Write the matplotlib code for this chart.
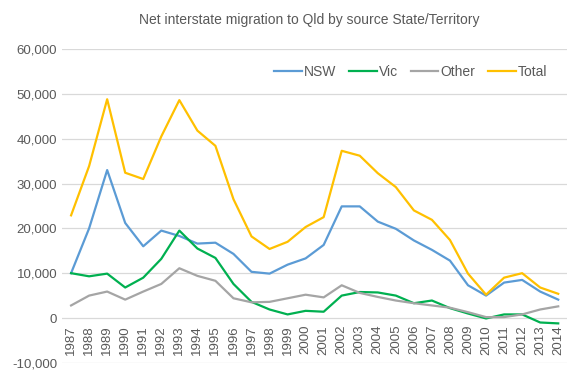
import numpy as np
import matplotlib
matplotlib.use('Agg')
import matplotlib.pyplot as plt
from matplotlib.ticker import FuncFormatter

# data
years = list(range(1987, 2015))
nsw = [10000, 20000, 33000, 21200, 16000, 19500, 18300, 16600, 16800, 14300,
       10300, 9900, 11900, 13300, 16300, 24900, 24900, 21500, 19900, 17300,
       15200, 12800, 7300, 5000, 7900, 8500, 5900, 4100]
vic = [10000, 9300, 9900, 6800, 9000, 13200, 19500, 15500, 13400, 7600,
       3600, 1900, 800, 1600, 1400, 5000, 5800, 5700, 5000, 3300,
       3900, 2200, 1000, -100, 800, 800, -1000, -1200]
other = [2800, 5000, 5900, 4100, 5900, 7600, 11100, 9400, 8300, 4400,
         3500, 3600, 4400, 5200, 4600, 7300, 5600, 4700, 3900, 3300,
         2800, 2300, 1300, 200, 200, 800, 1900, 2600]
total = [22900, 33900, 48800, 32400, 31000, 40500, 48600, 41800, 38400, 26500,
         18200, 15400, 17000, 20300, 22500, 37300, 36200, 32300, 29200, 24000,
         21900, 17400, 9900, 5200, 9000, 10000, 6800, 5400]

series = [('NSW', nsw, '#5b9bd5'), ('Vic', vic, '#00b050'),
          ('Other', other, '#a5a5a5'), ('Total', total, '#ffc000')]

plt.rcParams['font.family'] = ['Liberation Sans', 'DejaVu Sans']
txt = '#595959'

fig = plt.figure(figsize=(5.8, 3.86), dpi=100)
ax = fig.add_axes([0.107, 0.06, 0.871, 0.813])

# x axis labels sit just under the zero line
for s in ['top', 'right', 'left']:
    ax.spines[s].set_visible(False)
ax.spines['bottom'].set_position(('data', 0))
ax.spines['bottom'].set_visible(False)

for name, vals, col in series:
    ax.plot(years, vals, color=col, lw=1.6, label=name)

ax.set_xlim(1986.5, 2014.5)
ax.set_ylim(-10000, 60000)
ax.set_yticks(np.arange(-10000, 60001, 10000))
ax.yaxis.set_major_formatter(FuncFormatter(lambda v, p: f'{int(v):,}'))
ax.set_xticks(years)
ax.set_xticklabels([str(y) for y in years])
ax.grid(axis='y', color='#d9d9d9', lw=0.9)
ax.set_axisbelow(True)
ax.tick_params(length=0, labelsize=9.5, colors=txt)
ax.tick_params(axis='x', pad=5, labelrotation=90)

ax.set_title('Net interstate migration to Qld by source State/Territory',
             fontsize=10, color=txt, pad=18, x=0.49)
ax.legend(loc='center right', bbox_to_anchor=(0.985, 0.927), ncol=4, frameon=False,
          fontsize=10, labelcolor=txt, handlelength=2.0, columnspacing=0.9,
          handletextpad=0.15)

fig.savefig('out.png', dpi=100)
